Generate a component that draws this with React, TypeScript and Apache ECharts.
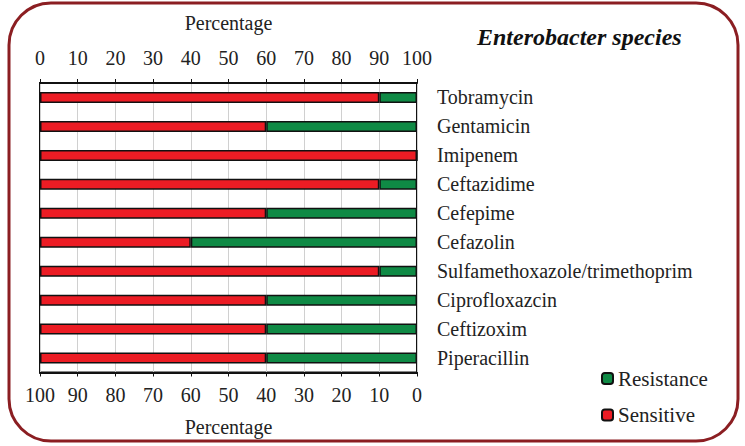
import React, { useEffect, useRef } from "react";
import * as echarts from "echarts";

const categories = [
  "Tobramycin",
  "Gentamicin",
  "Imipenem",
  "Ceftazidime",
  "Cefepime",
  "Cefazolin",
  "Sulfamethoxazole/trimethoprim",
  "Ciprofloxazcin",
  "Ceftizoxim",
  "Piperacillin",
];
const sensitive = [90, 60, 100, 90, 60, 40, 90, 60, 60, 60];
const resistance = [10, 40, 0, 10, 40, 60, 10, 40, 40, 40];

const FONT = "Liberation Serif";

export default function App() {
  const ref = useRef<HTMLDivElement>(null);
  useEffect(() => {
    document.body.style.margin = "0";
    const chart = echarts.init(ref.current!, null, { renderer: "svg" });
    chart.setOption({
      animation: false,
      textStyle: { fontFamily: FONT },
      graphic: [
        {
          type: "rect",
          shape: { x: 9, y: 3, width: 729, height: 438, r: 42 },
          style: { fill: "none", stroke: "#8B1E22", lineWidth: 3 },
          z: 0,
        },
        {
          type: "text",
          left: 477,
          top: 25,
          style: {
            text: "Enterobacter species",
            font: "italic bold 24px Liberation Serif",
            fill: "#111",
          },
        },
      ],
      legend: {
        orient: "vertical",
        left: 596,
        top: 363,
        itemWidth: 11,
        itemHeight: 11,
        itemGap: 15.5,
        data: ["Resistance", "Sensitive"],
        textStyle: { fontFamily: FONT, fontSize: 21, color: "#222" },
      },
      grid: {
        left: 40,
        right: 328,
        top: 83,
        bottom: 73.5,
        show: true,
        borderColor: "#111",
        borderWidth: 2,
      },
      xAxis: [
        {
          type: "value",
          position: "top",
          min: 0,
          max: 100,
          interval: 10,
          name: "Percentage",
          nameLocation: "middle",
          nameGap: 50,
          nameTextStyle: { fontFamily: FONT, fontSize: 20, color: "#222" },
          axisLine: { show: true, lineStyle: { color: "#111", width: 2 } },
          axisTick: { show: true, length: 4, lineStyle: { color: "#111" } },
          axisLabel: { fontFamily: FONT, fontSize: 20, color: "#222", margin: 15 },
          splitLine: { show: true, lineStyle: { color: "#d0d0d0", width: 1 } },
        },
        {
          type: "value",
          position: "bottom",
          min: 0,
          max: 100,
          interval: 10,
          inverse: true,
          name: "Percentage",
          nameLocation: "middle",
          nameGap: 44,
          nameTextStyle: { fontFamily: FONT, fontSize: 20, color: "#222" },
          axisLine: { show: true, lineStyle: { color: "#111", width: 2 } },
          axisTick: { show: true, length: 4, lineStyle: { color: "#111" } },
          axisLabel: { fontFamily: FONT, fontSize: 20, color: "#222", margin: 12 },
          splitLine: { show: false },
        },
      ],
      yAxis: {
        type: "category",
        data: categories,
        inverse: true,
        position: "right",
        axisLine: { show: false },
        axisTick: { show: false },
        axisLabel: {
          fontFamily: FONT,
          fontSize: 20,
          color: "#222",
          align: "left",
          margin: 20,
        },
      },
      series: [
        {
          name: "Sensitive",
          type: "bar",
          stack: "total",
          xAxisIndex: 0,
          barWidth: 11,
          data: sensitive,
          itemStyle: { color: "#EC1C24", borderColor: "#111", borderWidth: 1.5 },
        },
        {
          name: "Resistance",
          type: "bar",
          stack: "total",
          xAxisIndex: 0,
          barWidth: 11,
          data: resistance,
          itemStyle: { color: "#0F8A45", borderColor: "#111", borderWidth: 1.5 },
        },
      ],
    });
    return () => chart.dispose();
  }, []);
  return <div ref={ref} style={{ width: 745, height: 446 }} />;
}
